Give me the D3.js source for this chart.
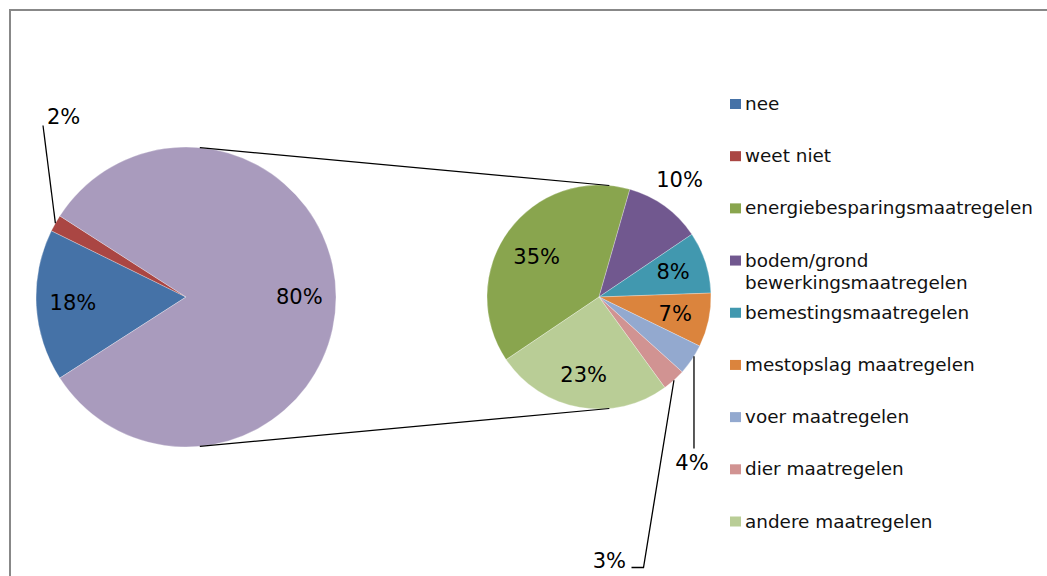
<!DOCTYPE html>
<html><head><meta charset="utf-8">
<script src="https://cdn.jsdelivr.net/npm/d3@7"></script>
<style>html,body{margin:0;padding:0;background:#fff}svg{display:block}</style>
</head><body>
<svg id="c" width="1047" height="576"></svg>
<script>
// ---- data ----
const mainCategories = ["nee", "weet niet"];
const mainValues = [18, 2];
const mainLabels = ["18%", "2%"];
const otherLabel = "80%";
const subCategories = ["energiebesparingsmaatregelen", "bodem/grond bewerkingsmaatregelen", "bemestingsmaatregelen", "mestopslag maatregelen", "voer maatregelen", "dier maatregelen", "andere maatregelen"];
const subValues = [35, 10, 8, 7, 4, 3, 23];
const subLabels = ["35%", "10%", "8%", "7%", "4%", "3%", "23%"];
const legendNames = ["nee", "weet niet", "energiebesparingsmaatregelen", ["bodem/grond", "bewerkingsmaatregelen"], "bemestingsmaatregelen", "mestopslag maatregelen", "voer maatregelen", "dier maatregelen", "andere maatregelen"];
const mainColors = ["#4572A7", "#AA4643"];
const otherColor = "#A99BBD";
const subColors = ["#89A54E", "#71588F", "#4198AF", "#DB843D", "#93A9CF", "#D19392", "#B9CD96"];

const svg = d3.select("#c");
const FONT = "'DejaVu Sans', Verdana, sans-serif";

// frame
svg.append("path").attr("d", "M10,576 L10,10 L1047,10").attr("fill", "none").attr("stroke", "#888").attr("stroke-width", 2);

const deg = Math.PI / 180;
const c1 = {x: 186, y: 297, r: 150};
const c2 = {x: 599, y: 297, r: 112};

// main pie: nee, weet niet, other (sum of sub values)
const otherValue = d3.sum(subValues);
const mainData = mainValues.map((v, i) => ({name: mainCategories[i], value: v, color: mainColors[i], label: mainLabels[i]}))
  .concat([{name: "other", value: otherValue, color: otherColor, label: otherLabel}]);
const total = d3.sum(mainData, d => d.value);
const otherSpan = otherValue / total * 2 * Math.PI;
const startMain = Math.PI / 2 + otherSpan / 2;
const pie1 = d3.pie().sort(null).value(d => d.value).startAngle(startMain).endAngle(startMain + 2 * Math.PI);
const arc1 = d3.arc().innerRadius(0).outerRadius(c1.r);
const g1 = svg.append("g").attr("transform", `translate(${c1.x},${c1.y})`);
const arcs1 = pie1(mainData);
g1.selectAll("path").data(arcs1).join("path").attr("d", arc1).attr("fill", d => d.data.color)
  .attr("stroke", "#fff").attr("stroke-width", 0.4).attr("stroke-opacity", 0.7);

// sub pie
const subData = subValues.map((v, i) => ({name: subCategories[i], value: v, color: subColors[i], label: subLabels[i]}));
const startSub = 236 * deg;
const pie2 = d3.pie().sort(null).value(d => d.value).startAngle(startSub).endAngle(startSub + 2 * Math.PI);
const arc2 = d3.arc().innerRadius(0).outerRadius(c2.r);
const g2 = svg.append("g").attr("transform", `translate(${c2.x},${c2.y})`);
const arcs2 = pie2(subData);
g2.selectAll("path").data(arcs2).join("path").attr("d", arc2).attr("fill", d => d.data.color)
  .attr("stroke", "#fff").attr("stroke-width", 0.4).attr("stroke-opacity", 0.7);

// connector lines: external tangents
const dist = c2.x - c1.x;
const alpha = Math.asin((c1.r - c2.r) / dist);
[-1, 1].forEach(s => {
  svg.append("line")
    .attr("x1", c1.x + c1.r * Math.sin(alpha)).attr("y1", c1.y + s * c1.r * Math.cos(alpha))
    .attr("x2", c2.x + c2.r * Math.sin(alpha)).attr("y2", c2.y + s * c2.r * Math.cos(alpha))
    .attr("stroke", "#000").attr("stroke-width", 1.2);
});

function polar(c, a, r) { return [c.x + r * Math.sin(a), c.y - r * Math.cos(a)]; }
function mid(d) { return (d.startAngle + d.endAngle) / 2; }
function label(x, y, t, anchor) {
  svg.append("text").attr("x", x).attr("y", y).attr("text-anchor", anchor || "middle")
    .attr("dominant-baseline", "central").attr("font-family", FONT).attr("font-size", 21)
    .attr("fill", "#000").text(t);
}

// main labels
arcs1.forEach(d => {
  if (d.data.name === "weet niet") {
    const p = polar(c1, mid(d), c1.r);
    svg.append("polyline").attr("points", `${p[0]},${p[1]} 43,125.5`).attr("fill", "none").attr("stroke", "#000").attr("stroke-width", 1.3);
    label(47, 117, d.data.label, "start");
  } else {
    const p = polar(c1, mid(d), c1.r * 0.755);
    label(p[0], p[1], d.data.label);
  }
});

// sub labels
arcs2.forEach(d => {
  const n = d.data.name;
  if (n === "bodem/grond bewerkingsmaatregelen") {
    const p = polar(c2, mid(d) - 1.5 * deg, c2.r * 1.27);
    label(p[0], p[1], d.data.label);
  } else if (n === "voer maatregelen") {
    const p = polar(c2, mid(d) - 2 * deg, c2.r);
    svg.append("polyline").attr("points", `${p[0]},${p[1]} ${p[0]},448.5`).attr("fill", "none").attr("stroke", "#000").attr("stroke-width", 1.3);
    label(p[0] - 2, 463, d.data.label);
  } else if (n === "dier maatregelen") {
    const p = polar(c2, mid(d), c2.r);
    svg.append("polyline").attr("points", `${p[0]},${p[1]} 643.5,567.5 631.5,567.5`).attr("fill", "none").attr("stroke", "#000").attr("stroke-width", 1.3);
    label(626, 561, d.data.label, "end");
  } else if (n === "energiebesparingsmaatregelen") {
    const p = polar(c2, mid(d) - 3.5 * deg, c2.r * 0.66);
    label(p[0], p[1], d.data.label);
  } else {
    const p = polar(c2, mid(d), c2.r * 0.71);
    label(p[0] - 1.5, p[1], d.data.label);
  }
});

// legend
const legendColors = mainColors.concat(subColors);
const ly = d3.scaleLinear().domain([0, legendNames.length - 1]).range([110, 527.5]);
legendNames.forEach((nm, i) => {
  const y = ly(i);
  svg.append("rect").attr("x", 730).attr("y", y - 11).attr("width", 11).attr("height", 10).attr("fill", legendColors[i]);
  const lines = Array.isArray(nm) ? nm : [nm];
  const t = svg.append("text").attr("x", 745).attr("y", y).attr("font-family", FONT).attr("font-size", 18.4).attr("fill", "#111");
  lines.forEach((ln, j) => t.append("tspan").attr("x", 745).attr("dy", j === 0 ? 0 : 22.5).text(ln));
});
</script>
</body></html>
